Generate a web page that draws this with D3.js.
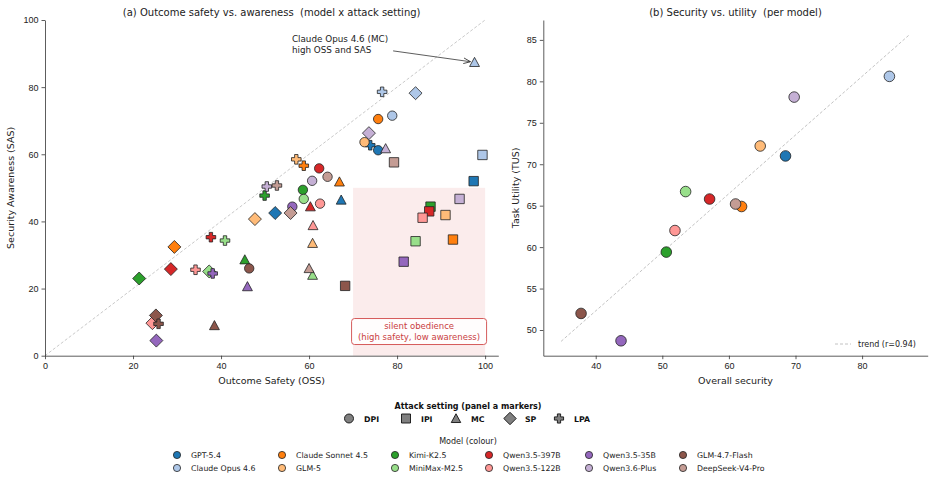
<!DOCTYPE html>
<html>
<head>
<meta charset="utf-8">
<script src="https://cdn.jsdelivr.net/npm/d3@7"></script>
<style>
  body { margin: 0; background: #fff; }
  svg { font-family: "DejaVu Sans", sans-serif; }
  text { white-space: pre; }
  .tick text { font-size: 9px; fill: #222; }
  .tick line, .domain { stroke: #333; stroke-width: 0.8; }
</style>
</head>
<body>
<div class="container"></div>
<script>
var models = ['GPT-5.4', 'Claude Opus 4.6', 'Claude Sonnet 4.5', 'GLM-5', 'Kimi-K2.5', 'MiniMax-M2.5',
  'Qwen3.5-397B', 'Qwen3.5-122B', 'Qwen3.5-35B', 'Qwen3.6-Plus', 'GLM-4.7-Flash', 'DeepSeek-V4-Pro'];
var colors = ['#1f77b4', '#aec7e8', '#ff7f0e', '#ffbb78', '#2ca02c', '#98df8a',
  '#d62728', '#ff9896', '#9467bd', '#c5b0d5', '#8c564b', '#c49c94'];
var settings = ['DPI', 'IPI', 'MC', 'SP', 'LPA'];

// panel a: per model, values for DPI, IPI, MC, SP, LPA
var oss = [
  [75.7, 97.4, 67.3, 52.3, 73.9],
  [78.9, 99.4, 97.6, 84.2, 76.6],
  [75.7, 92.7, 66.9, 29.4, 58.8],
  [72.6, 91.0, 60.8, 47.7, 57.1],
  [58.6, 87.6, 45.4, 21.4, 49.9],
  [58.8, 84.2, 60.8, 37.3, 40.9],
  [62.3, 87.3, 60.3, 28.6, 37.7],
  [62.5, 85.8, 60.9, 24.4, 34.2],
  [56.2, 81.5, 46.0, 25.3, 38.1],
  [60.7, 94.2, 77.4, 73.6, 50.4],
  [46.4, 68.2, 38.5, 25.2, 25.8],
  [64.2, 79.3, 60.0, 55.8, 52.7]
];
var sas = [
  [61.2, 52.0, 46.4, 42.5, 62.7],
  [71.5, 59.8, 87.4, 78.2, 78.6],
  [70.5, 34.6, 51.8, 32.4, 56.6],
  [63.6, 41.9, 33.5, 40.7, 58.5],
  [49.4, 44.4, 28.6, 23.0, 47.7],
  [46.7, 34.1, 24.0, 25.1, 34.3],
  [55.8, 43.0, 44.4, 25.8, 35.3],
  [45.3, 41.1, 38.8, 9.7, 25.6],
  [44.4, 28.0, 20.6, 4.5, 24.5],
  [52.1, 46.7, 61.7, 66.3, 50.4],
  [26.0, 20.8, 9.0, 12.0, 9.5],
  [53.3, 57.6, 26.0, 42.5, 50.7]
];

// panel b: per model
var overallSecurity = [68.5, 84.1, 61.9, 64.7, 50.6, 53.5, 57.1, 51.9, 43.8, 69.8, 37.8, 61.0];
var taskUtility = [71.0, 80.6, 64.9, 72.2, 59.4, 66.7, 65.8, 62.0, 48.7, 78.1, 52.0, 65.2];

var leftXTicks = [0, 20, 40, 60, 80, 100];
var leftYTicks = [0, 20, 40, 60, 80, 100];
var rightXTicks = [40, 50, 60, 70, 80];
var rightYTicks = [50, 55, 60, 65, 70, 75, 80, 85];

var svg = d3.select('.container').append('svg')
  .attr('width', 934)
  .attr('height', 479);

// marker paths, s = nominal size in px
var markerPath = function(k, s){
  var a = s / 2;
  if (k == 'DPI') return d3.symbol(d3.symbolCircle, Math.PI * a * a)();
  if (k == 'IPI') return 'M' + (-a) + ',' + (-a) + 'H' + a + 'V' + a + 'H' + (-a) + 'Z';
  if (k == 'MC') { var t = a * 1.05; return 'M0,' + (-t) + 'L' + t + ',' + (t * 0.85) + 'L' + (-t) + ',' + (t * 0.85) + 'Z'; }
  if (k == 'SP') { var d = a * 1.38; return 'M0,' + (-d) + 'L' + d + ',0L0,' + d + 'L' + (-d) + ',0Z'; }
  var w = a * 0.36, b = a * 1.02;
  return 'M' + (-w) + ',' + (-b) + 'H' + w + 'V' + (-w) + 'H' + b + 'V' + w + 'H' + w + 'V' + b +
    'H' + (-w) + 'V' + w + 'H' + (-b) + 'V' + (-w) + 'H' + (-w) + 'Z';
};

// ---------- panel a ----------
var xa = d3.scaleLinear().domain([0, 103]).range([45, 498.3]);
var ya = d3.scaleLinear().domain([0, 100]).range([355.7, 20]);

var ga = svg.append('g');

ga.append('rect')
  .attr('x', xa(70)).attr('y', ya(50))
  .attr('width', xa(100) - xa(70)).attr('height', ya(0) - ya(50))
  .attr('fill', '#d62728').attr('fill-opacity', 0.09);

ga.append('line')
  .attr('x1', xa(0)).attr('y1', ya(0)).attr('x2', xa(100)).attr('y2', ya(100))
  .attr('stroke', '#bbb').attr('stroke-width', 0.8).attr('stroke-dasharray', '3,2');

ga.append('g').attr('transform', 'translate(0,' + ya(0) + ')')
  .call(d3.axisBottom(xa).tickValues(leftXTicks).tickSize(3.5).tickSizeOuter(0).tickPadding(3));
ga.append('g').attr('transform', 'translate(' + xa(0) + ',0)')
  .call(d3.axisLeft(ya).tickValues(leftYTicks).tickSize(3.5).tickSizeOuter(0).tickPadding(3));

var pts = [];
models.forEach(function(m, i){
  settings.forEach(function(s, j){
    pts.push({model: i, setting: s, x: oss[i][j], y: sas[i][j]});
  });
});

ga.selectAll('path.pt').data(pts).enter()
  .append('path').attr('class', 'pt')
  .attr('d', function(d){ return markerPath(d.setting, 9.4); })
  .attr('transform', function(d){ return 'translate(' + xa(d.x) + ',' + ya(d.y) + ')'; })
  .attr('fill', function(d){ return colors[d.model]; })
  .attr('stroke', '#222').attr('stroke-width', 0.8);

// silent obedience box
var bx = xa(85), by = ya(7.2);
ga.append('rect')
  .attr('x', bx - 67.5).attr('y', by - 13).attr('width', 135).attr('height', 26)
  .attr('rx', 3).attr('fill', '#fff').attr('fill-opacity', 0.9)
  .attr('stroke', '#d0494a').attr('stroke-width', 0.9);
ga.append('text').attr('x', bx).attr('y', by - 2.3)
  .attr('text-anchor', 'middle').attr('font-size', '8.5px').attr('fill', '#c9403f')
  .text('silent obedience');
ga.append('text').attr('x', bx).attr('y', by + 8.7)
  .attr('text-anchor', 'middle').attr('font-size', '8.5px').attr('fill', '#c9403f')
  .text('(high safety, low awareness)');

// annotation for Claude Opus 4.6 (MC)
var target = pts.filter(function(d){ return d.model == 1 && d.setting == 'MC'; })[0];
svg.append('defs').append('marker')
  .attr('id', 'arr').attr('viewBox', '0 0 10 10').attr('refX', 10).attr('refY', 5)
  .attr('markerWidth', 7).attr('markerHeight', 7).attr('markerUnits', 'userSpaceOnUse')
  .attr('orient', 'auto')
  .append('path').attr('d', 'M0,1L10,5L0,9').attr('fill', 'none').attr('stroke', '#333').attr('stroke-width', 1.2);
var ax0 = xa(79.1), ay0 = ya(90.8);
var tx = xa(target.x), ty = ya(target.y);
var ang = Math.atan2(ty - ay0, tx - ax0);
ga.append('line')
  .attr('x1', ax0).attr('y1', ay0)
  .attr('x2', tx - 4 * Math.cos(ang)).attr('y2', ty - 4 * Math.sin(ang))
  .attr('stroke', '#333').attr('stroke-width', 0.8).attr('marker-end', 'url(#arr)');
ga.append('text').attr('x', xa(56.1)).attr('y', ya(93.4))
  .attr('font-size', '8.8px').attr('fill', '#222').text('Claude Opus 4.6 (MC)');
ga.append('text').attr('x', xa(56.1)).attr('y', ya(90.1))
  .attr('font-size', '8.8px').attr('fill', '#222').text('high OSS and SAS');

ga.append('text').attr('x', (xa.range()[0] + xa.range()[1]) / 2).attr('y', 15.5)
  .attr('text-anchor', 'middle').attr('font-size', '10px').attr('fill', '#222')
  .text('(a) Outcome safety vs. awareness  (model x attack setting)');
ga.append('text').attr('x', (xa(0) + xa(103)) / 2).attr('y', 384)
  .attr('text-anchor', 'middle').attr('font-size', '9.5px').attr('fill', '#222')
  .text('Outcome Safety (OSS)');
ga.append('text').attr('transform', 'translate(14,' + (ya(50)) + ') rotate(-90)')
  .attr('text-anchor', 'middle').attr('font-size', '9.5px').attr('fill', '#222')
  .text('Security Awareness (SAS)');

// ---------- panel b ----------
var xb = d3.scaleLinear().domain([32.13, 89.85]).range([543.3, 927.7]);
var yb = d3.scaleLinear().domain([46.9, 87.4]).range([355.7, 20]);

var gb = svg.append('g');

gb.append('g').attr('transform', 'translate(0,' + yb(46.9) + ')')
  .call(d3.axisBottom(xb).tickValues(rightXTicks).tickSize(3.5).tickSizeOuter(0).tickPadding(3));
gb.append('g').attr('transform', 'translate(' + xb(32.13) + ',0)')
  .call(d3.axisLeft(yb).tickValues(rightYTicks).tickSize(3.5).tickSizeOuter(0).tickPadding(3));

// least squares trend
var mx = d3.mean(overallSecurity), my = d3.mean(taskUtility);
var sxy = 0, sxx = 0, syy = 0;
overallSecurity.forEach(function(v, i){
  sxy += (v - mx) * (taskUtility[i] - my);
  sxx += (v - mx) * (v - mx);
  syy += (taskUtility[i] - my) * (taskUtility[i] - my);
});
var slope = sxy / sxx, r = sxy / Math.sqrt(sxx * syy);
var lx0 = d3.min(overallSecurity) - 3, lx1 = d3.max(overallSecurity) + 3;
gb.append('line')
  .attr('x1', xb(lx0)).attr('y1', yb(my + slope * (lx0 - mx)))
  .attr('x2', xb(lx1)).attr('y2', yb(my + slope * (lx1 - mx)))
  .attr('stroke', '#bbb').attr('stroke-width', 0.9).attr('stroke-dasharray', '3,2');

gb.selectAll('circle.m').data(models).enter()
  .append('circle').attr('class', 'm')
  .attr('cx', function(d, i){ return xb(overallSecurity[i]); })
  .attr('cy', function(d, i){ return yb(taskUtility[i]); })
  .attr('r', 5.3)
  .attr('fill', function(d, i){ return colors[i]; })
  .attr('stroke', '#222').attr('stroke-width', 0.8);

gb.append('line').attr('x1', 835).attr('x2', 851).attr('y1', 344).attr('y2', 344)
  .attr('stroke', '#bbb').attr('stroke-width', 0.9).attr('stroke-dasharray', '3,2');
gb.append('text').attr('x', 858).attr('y', 347)
  .attr('font-size', '8px').attr('fill', '#222')
  .text('trend (r=' + r.toFixed(2) + ')');

gb.append('text').attr('x', (xb.range()[0] + xb.range()[1]) / 2).attr('y', 15.5)
  .attr('text-anchor', 'middle').attr('font-size', '10px').attr('fill', '#222')
  .text('(b) Security vs. utility  (per model)');
gb.append('text').attr('x', (xb.range()[0] + xb.range()[1]) / 2).attr('y', 384)
  .attr('text-anchor', 'middle').attr('font-size', '9.5px').attr('fill', '#222')
  .text('Overall security');
gb.append('text').attr('transform', 'translate(519,' + ((yb.range()[0] + yb.range()[1]) / 2) + ') rotate(-90)')
  .attr('text-anchor', 'middle').attr('font-size', '9.5px').attr('fill', '#222')
  .text('Task Utility (TUS)');

// ---------- legends ----------
var lg = svg.append('g');
lg.append('text').attr('x', 468).attr('y', 409)
  .attr('text-anchor', 'middle').attr('font-size', '8px').attr('font-weight', 'bold').attr('fill', '#111')
  .text('Attack setting (panel a markers)');
var attackX = [349, 406, 456, 510, 559];
var al = lg.selectAll('g.att').data(settings).enter().append('g').attr('class', 'att')
  .attr('transform', function(d, i){ return 'translate(' + attackX[i] + ',418.5)'; });
al.append('path')
  .attr('d', function(d){ return markerPath(d, 9); })
  .attr('fill', '#808080').attr('stroke', '#111').attr('stroke-width', 0.9);
al.append('text').attr('x', 15).attr('y', 3)
  .attr('font-size', '7.8px').attr('font-weight', 'bold').attr('fill', '#111')
  .text(function(d){ return d; });

lg.append('text').attr('x', 468).attr('y', 444)
  .attr('text-anchor', 'middle').attr('font-size', '8px').attr('fill', '#222')
  .text('Model (colour)');
var colX = [177, 282, 395, 489, 589, 683];
var ml = lg.selectAll('g.mod').data(models).enter().append('g').attr('class', 'mod')
  .attr('transform', function(d, i){ return 'translate(' + colX[Math.floor(i / 2)] + ',' + (i % 2 ? 468 : 455) + ')'; });
ml.append('circle').attr('r', 3.6)
  .attr('fill', function(d, i){ return colors[i]; })
  .attr('stroke', '#222').attr('stroke-width', 0.8);
ml.append('text').attr('x', 14).attr('y', 2.8)
  .attr('font-size', '7.8px').attr('fill', '#222')
  .text(function(d){ return d; });
</script>
</body>
</html>
